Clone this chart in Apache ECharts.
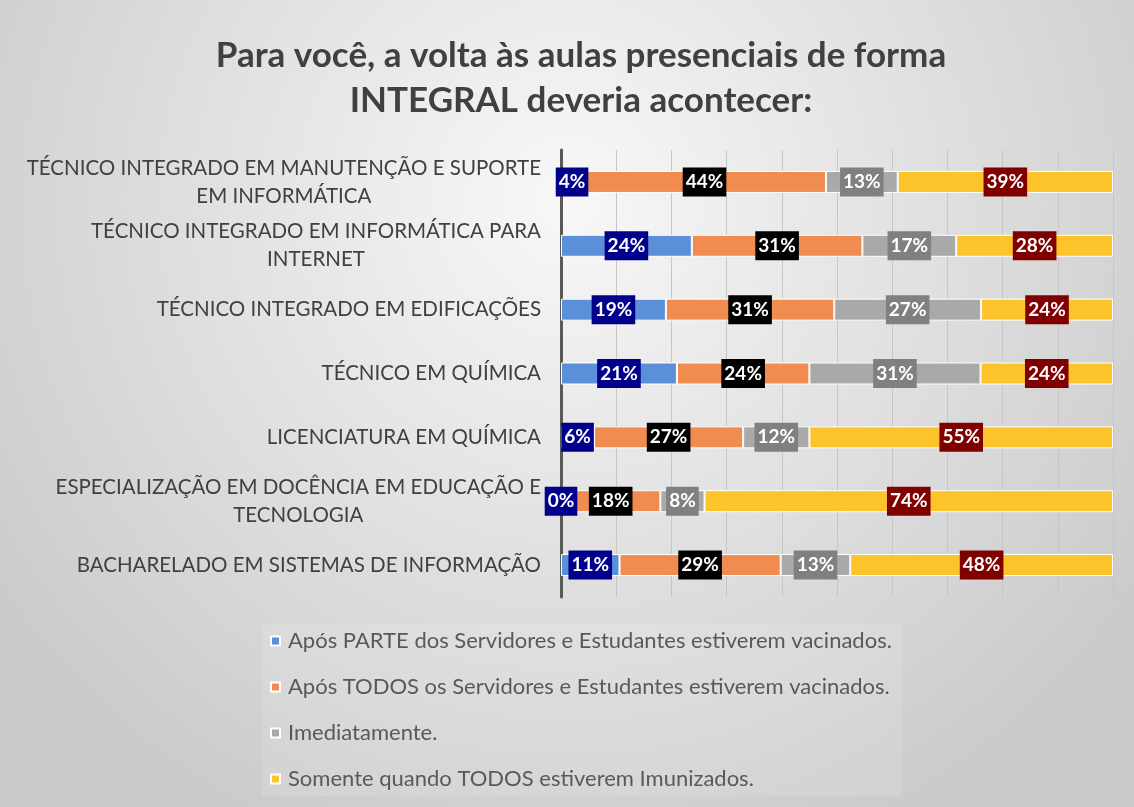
<!DOCTYPE html>
<html>
<head>
<meta charset="utf-8">
<script src="https://cdn.jsdelivr.net/npm/echarts@6/dist/echarts.min.js"></script>
<style>
  html, body { margin: 0; padding: 0; }
  #chart { width: 1134px; height: 807px; }
</style>
</head>
<body>
<div id="chart"></div>
<script>
// categorias (de cima para baixo)
const categories = [
  'TÉCNICO INTEGRADO EM MANUTENÇÃO E SUPORTE EM INFORMÁTICA',
  'TÉCNICO INTEGRADO EM INFORMÁTICA PARA INTERNET',
  'TÉCNICO INTEGRADO EM EDIFICAÇÕES',
  'TÉCNICO EM QUÍMICA',
  'LICENCIATURA EM QUÍMICA',
  'ESPECIALIZAÇÃO EM DOCÊNCIA EM EDUCAÇÃO E TECNOLOGIA',
  'BACHARELADO EM SISTEMAS DE INFORMAÇÃO'
];
const seriesNames = [
  'Após PARTE dos Servidores e Estudantes estiverem vacinados.',
  'Após TODOS os Servidores e Estudantes estiverem vacinados.',
  'Imediatamente.',
  'Somente quando TODOS estiverem Imunizados.'
];
// percentuais
const parte = [4, 23.7, 19, 21, 6, 0, 10.6];
const todos = [44, 30.9, 30.5, 24, 27, 18, 29.2];
const imediatamente = [13, 17, 26.6, 31, 12, 8, 12.6];
const somente = [39, 28.4, 23.9, 24, 55, 74, 47.6];

const values = [parte, todos, imediatamente, somente];
const barColors = ['#5b8fd8', '#f08c4f', '#a9a9a9', '#fcc42a'];
const labelBg = ['#00008c', '#000000', '#808080', '#800000'];

const FONT = 'Lato';
const CAT_SIZE = 20.5;

// quebra de linha dos rótulos das categorias
const ctx = document.createElement('canvas').getContext('2d');
ctx.font = CAT_SIZE + 'px ' + FONT;
function wrap(text, maxW) {
  const words = text.split(' ');
  const lines = [];
  let cur = '';
  words.forEach(w => {
    const test = cur ? cur + ' ' + w : w;
    if (cur && ctx.measureText(test).width > maxW) {
      lines.push(cur);
      cur = w;
    } else {
      cur = test;
    }
  });
  lines.push(cur);
  return lines;
}

const chart = echarts.init(document.getElementById('chart'));

const option = {
  backgroundColor: {
    type: 'radial', x: 0.5, y: 0.25, r: 0.85,
    colorStops: [
      { offset: 0, color: '#f8f8f8' },
      { offset: 1, color: '#cbcbcb' }
    ]
  },
  title: {
    text: 'Para você, a volta às aulas presenciais de forma\nINTEGRAL deveria acontecer:',
    left: 576,
    top: 28,
    textAlign: 'center',
    textStyle: {
      fontFamily: FONT,
      fontSize: 35,
      fontWeight: 'bold',
      color: '#404040',
      lineHeight: 45
    }
  },
  legend: {
    orient: 'vertical',
    left: 262,
    top: 624,
    itemGap: 24,
    itemWidth: 9,
    itemHeight: 9,
    icon: 'rect',
    data: seriesNames,
    backgroundColor: 'rgba(255,255,255,0.12)',
    padding: [6, 10, 6, 8],
    textStyle: { fontFamily: FONT, fontSize: 22, color: '#595959', padding: [0, 0, 0, 3] }
  },
  grid: { left: 561, right: 21, top: 150, bottom: 210 },
  xAxis: {
    type: 'value',
    min: 0,
    max: 100,
    interval: 10,
    axisLabel: { show: false },
    axisLine: { show: false },
    axisTick: { show: false },
    splitLine: { lineStyle: { color: '#c6c6c6', width: 1 } }
  },
  yAxis: {
    type: 'category',
    inverse: true,
    data: categories,
    axisTick: { show: false },
    axisLine: { lineStyle: { color: '#595959', width: 3 } },
    axisLabel: {
      margin: 20,
      formatter: v => wrap(v, 530).map(l => '{a|' + l + '}').join('\n'),
      rich: {
        a: { align: 'center', fontFamily: FONT, fontSize: CAT_SIZE, color: '#404040', lineHeight: 28 }
      }
    }
  },
  series: seriesNames.map((name, i) => ({
    name: name,
    type: 'bar',
    stack: 'total',
    barWidth: 22,
    data: values[i],
    itemStyle: { color: barColors[i], borderColor: '#ffffff', borderWidth: 1 },
    label: {
      show: true,
      position: 'inside',
      formatter: p => Math.round(p.value) + '%',
      fontFamily: FONT,
      fontSize: 19,
      fontWeight: 'bold',
      color: '#ffffff',
      backgroundColor: labelBg[i],
      padding: [6, 3, 4, 3]
    }
  }))
};

chart.setOption(option);
</script>
</body>
</html>
